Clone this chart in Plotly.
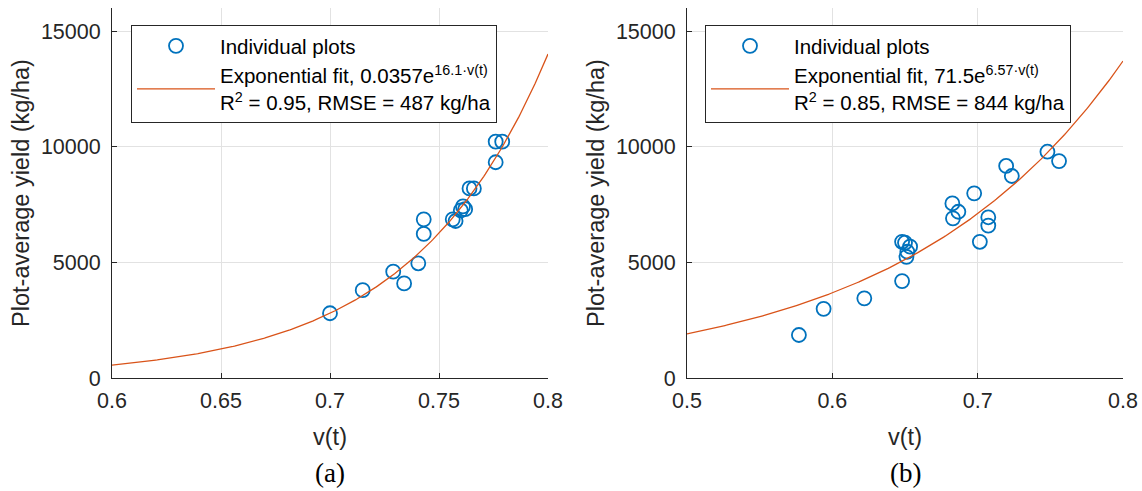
import numpy as np
import plotly.graph_objects as go

# ---- data ----
va_x = [0.700, 0.715, 0.729, 0.734, 0.7405, 0.743, 0.743, 0.7563, 0.7576,
        0.760, 0.761, 0.762, 0.764, 0.766, 0.776, 0.776, 0.779]
va_y = [2800, 3800, 4600, 4090, 4960, 6230, 6860, 6860, 6790,
        7250, 7420, 7300, 8200, 8200, 9330, 10220, 10220]
fit_a = (0.0357, 16.1)

vb_x = [0.577, 0.594, 0.622, 0.648, 0.648, 0.650, 0.6535, 0.6516, 0.651,
        0.6826, 0.6867, 0.683, 0.6976, 0.7015, 0.7073, 0.7073,
        0.7196, 0.7235, 0.748, 0.756]
vb_y = [1860, 2990, 3445, 4190, 5890, 5850, 5680, 5460, 5240,
        7550, 7190, 6905, 7985, 5890, 6950, 6590,
        9170, 8735, 9785, 9380]
fit_b = (71.5, 6.57)

xa_range = [0.6, 0.8]
xb_range = [0.5, 0.8]
y_range = [0, 16000]
y_ticks = [0, 5000, 10000, 15000]

name_pts = "Individual plots"
name_fit_a = "Exponential fit, 0.0357e<sup>16.1·v(t)</sup><br>R<sup>2</sup> = 0.95, RMSE = 487 kg/ha"
name_fit_b = "Exponential fit, 71.5e<sup>6.57·v(t)</sup><br>R<sup>2</sup> = 0.85, RMSE = 844 kg/ha"

BLUE = "#0072BD"
ORANGE = "#D95319"
AX = "#262626"
GRID = "#e2e2e2"
FONT = "Liberation Sans, Arial, sans-serif"

xa_fit = np.linspace(xa_range[0], xa_range[1], 300)
ya_fit = fit_a[0] * np.exp(fit_a[1] * xa_fit)
xb_fit = np.linspace(xb_range[0], xb_range[1], 300)
yb_fit = fit_b[0] * np.exp(fit_b[1] * xb_fit)

fig = go.Figure()
mk = dict(symbol="circle-open", size=14, color=BLUE, line=dict(width=1.8, color=BLUE))

fig.add_trace(go.Scatter(x=va_x, y=va_y, mode="markers", marker=mk, name=name_pts,
                         xaxis="x", yaxis="y", legend="legend"))
fig.add_trace(go.Scatter(x=xa_fit, y=ya_fit, mode="lines", line=dict(color=ORANGE, width=1.3),
                         name=name_fit_a, xaxis="x", yaxis="y", legend="legend"))
fig.add_trace(go.Scatter(x=vb_x, y=vb_y, mode="markers", marker=mk, name=name_pts,
                         xaxis="x2", yaxis="y2", legend="legend2"))
fig.add_trace(go.Scatter(x=xb_fit, y=yb_fit, mode="lines", line=dict(color=ORANGE, width=1.3),
                         name=name_fit_b, xaxis="x2", yaxis="y2", legend="legend2"))

W, H = 1142, 491
def px_x(p):
    return p / W
def px_y(p):
    return 1 - p / H

common_x = dict(showline=True, linecolor=AX, linewidth=1, mirror=False, ticks="inside",
                ticklen=5, tickcolor=AX, showgrid=True, gridcolor=GRID, zeroline=False,
                automargin=False, ticklabelstandoff=3,
                tickfont=dict(size=21.5, color=AX, family=FONT),
                title=dict(text="v(t)", font=dict(size=23.5, color=AX, family=FONT), standoff=16))
common_y = dict(showline=True, linecolor=AX, linewidth=1, mirror=False, ticks="inside",
                ticklen=5, tickcolor=AX, showgrid=True, gridcolor=GRID, zeroline=False,
                automargin=False, ticklabelstandoff=6,
                range=y_range, tickvals=y_ticks, tickformat="d",
                tickfont=dict(size=21.5, color=AX, family=FONT),
                title=dict(text="Plot-average yield (kg/ha)", font=dict(size=23.5, color=AX, family=FONT), standoff=4))

leg = dict(xanchor="left", yanchor="top", bgcolor="white", bordercolor=AX, borderwidth=1,
           font=dict(size=20.5, color="black", family=FONT), itemwidth=78, valign="middle")

fig.update_layout(
    width=W, height=H, margin=dict(l=0, r=0, t=0, b=0),
    plot_bgcolor="white", paper_bgcolor="white",
    font=dict(family=FONT, color=AX),
    xaxis=dict(domain=[px_x(112), px_x(548)], range=xa_range, dtick=0.05, anchor="y", **common_x),
    yaxis=dict(domain=[px_y(378), px_y(8)], anchor="x", **common_y),
    xaxis2=dict(domain=[px_x(687), px_x(1123)], range=xb_range, dtick=0.1, anchor="y2", **common_x),
    yaxis2=dict(domain=[px_y(378), px_y(8)], anchor="x2", **common_y),
    legend=dict(x=px_x(131), y=px_y(25), **leg),
    legend2=dict(x=px_x(705), y=px_y(25), **leg),
    annotations=[
        dict(text="(a)", x=px_x(330), y=px_y(473), xref="paper", yref="paper", showarrow=False,
             xanchor="center", yanchor="middle",
             font=dict(family="Liberation Serif, Times New Roman, serif", size=27, color="black")),
        dict(text="(b)", x=px_x(905), y=px_y(473), xref="paper", yref="paper", showarrow=False,
             xanchor="center", yanchor="middle",
             font=dict(family="Liberation Serif, Times New Roman, serif", size=27, color="black")),
    ],
)

fig.write_html("out.html")
